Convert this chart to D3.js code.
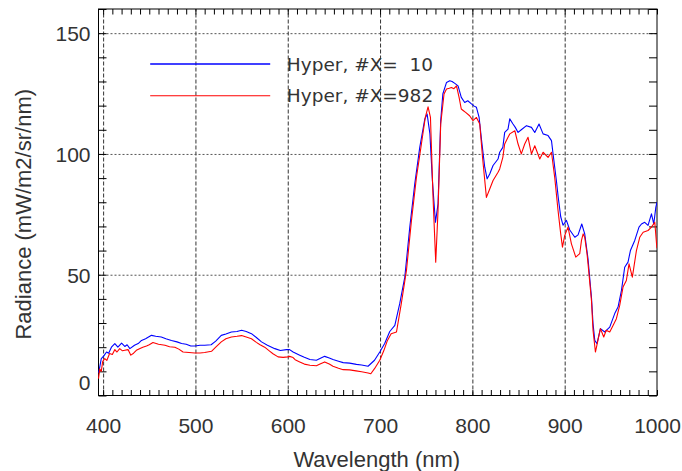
<!DOCTYPE html>
<html>
<head>
<meta charset="utf-8">
<script src="https://cdn.jsdelivr.net/npm/d3@7"></script>
<style>
  html, body { margin: 0; padding: 0; background: #fff; }
  svg { display: block; }
</style>
</head>
<body>
<script>
// ---- data ----
const blueWl = [395,396,398,401,403.7,406,409,412.7,416,420,423.5,426,429,434,438,441.6,446,452.4,457,463,468,474,480,485,490,495,499.3,505,510,517,522,528,533,539,545,550,555,560.7,566,571.6,578,586,592,598.6,602,605.8,613,618,624,631,636,640,645,649,655,660,667,674.4,680,687,694,699.7,705,710.5,716,721.3,726.8,732.2,737.6,743,748.5,751,754,756.7,760,762.8,765.7,768,772,775.5,778,781,784.5,788,791.7,795,799,802,804.4,807.3,810,813.4,816,818.8,822.4,827.8,829.6,833,835,838.6,840.5,844,846.5,849.5,853,858.6,864,867.6,872.2,876.6,882,885.7,887.4,891,893,895.7,898.2,901.9,905.5,911,914.5,918.5,921.7,925.3,929,930.7,932.6,935,938.7,943.4,948.8,954.2,957.8,961.5,965,968.6,971.2,975.9,980.5,983.2,986.7,990.3,994,996.5,998.7,1000];
const blueVal = [9.5,11,15.3,16.5,18,17.5,20,21.5,20,21.7,20.3,21,19.4,20.8,21.5,22.8,23.5,24.9,24.5,24.2,23.5,22.8,22.2,21.5,21.2,20.5,20.5,20.8,20.8,21,22.5,24.9,25.5,26.3,26.5,27,26.5,25.6,24,22.2,20.8,19.4,18.6,19,19,18,16.7,15.8,14.9,14.6,15.5,16.2,15.5,14.9,14.2,13.6,13.4,12.9,12.6,12.1,14.6,18,21.5,26.5,29,38,49,69.7,87.6,102.7,114.5,116.5,108.3,89,71.7,79.3,113.8,124.8,129.6,130.3,130,129.2,128.2,123.4,121.3,122,120.7,119.8,119.3,115.1,105.5,94.5,89.7,91.7,95.2,97.9,100.7,102.7,108.9,110.3,114.5,112.4,111,108.9,110,111.7,111,108.9,112.4,108.3,107.6,105.5,100,89,82,74,70.5,72.5,68.5,65.5,66.5,71,66.9,56.5,40.7,29.8,22.8,21.5,27.7,26.3,28.3,33.9,36.6,43.5,53.1,55.2,60,64.2,69.7,71,71.7,70.4,75.2,71,77.9,80];

const redWl = [395,396.4,398,399.5,401.8,404,407,410,412.7,415,418,421,423.5,427,430,433,436,440,443,447,450,454,460,467,472,477.7,482,486.6,493,499.3,505,510,517.4,522,528,533,539,545,550,555,560.7,566,570,575,580,584,589.5,595,600,602,605.8,608,613,618,624,631,635,640,645,649,655,660,667,674,680,687,690,694,699.7,704,708,712,717.8,723,728.6,734,739.4,744.8,749,752,754.6,757.4,760.3,762.8,765.7,769.3,772,775,777.3,780,782.8,785.6,788,790,792.7,797,800.7,804.4,808,811,815.2,818.8,822.4,827.8,829.6,833,835,838.6,840.5,846,849.5,853,856.7,860.3,864,867.6,873,876.6,882,885.7,889.2,892.8,895.7,897.6,900,903.6,907.3,912,916.3,918.2,920,921.7,924.2,925.3,929,930.7,933.3,936,938.7,942.3,945,948.8,952.4,956,959.6,963.2,966.8,969.7,973.3,977.7,981.3,985,990.3,994,997.6,999.5,1000];
const redVal = [7,11,10,14,15.3,14.5,17.4,17,19,18,19.4,18.5,18.7,19,16.7,17.5,18.7,19.5,20,20.5,21,21.9,21.2,20.8,20.2,20,19.2,18,17.8,17.6,17.6,17.8,18.3,20,22.2,23.5,24.2,24.5,24.8,24.2,23.5,22,21,20,18.5,17.3,16,15.8,16,16.2,15.7,14.8,13.9,13,12.5,12.3,13,13.9,13,12.1,11.3,10.7,10.6,10.2,9.8,9.3,9,11.1,14.6,18.5,22.8,25.6,26.3,38,51.8,72.4,90.3,104.1,115.1,119.5,115.1,82,55.2,76.6,112.4,124.8,126.9,127.2,127.5,127,128.2,123.4,118.6,118,117.2,115.8,113.8,115.1,112.4,98.6,82,85.5,89,92.4,93.8,98.6,104.1,106.9,108.3,109.6,104.1,100,104.1,106.9,100,103.4,97.9,100.7,98.6,100.7,90.3,76.6,66.9,61.4,66.2,69.7,62.8,57.3,58.7,64.2,66.9,65.5,58.7,54.5,39.4,27,18,22.8,27.7,24.2,27,26.3,29,31.8,37.3,44.9,47.6,54.5,49,60,65.5,67.6,68.3,69.7,71.7,62.8,61];

const xTickValues = [400,500,600,700,800,900,1000];
const yTickValues = [0,50,100,150];
const xDomain = [395,1000];
const yDomain = [0,160];
const seriesNames = ["Hyper, #X=  10", "Hyper, #X=982"];
const seriesColors = ["#0000ff", "#ff0000"];
const xTitle = "Wavelength (nm)";
const yTitle = "Radiance (mW/m2/sr/nm)";

// ---- layout ----
const W = 682, H = 471;
const L = 98.5, R = 657, T = 9, B = 395.5;
const pw = R - L, ph = B - T;

const svg = d3.select("body").append("svg").attr("width", W).attr("height", H);

const x = d3.scaleLinear().domain(xDomain).range([L, R]);
const y = d3.scaleLinear().domain(yDomain).range([B, T]);

const tickFont = "Liberation Sans, Arial, Helvetica, sans-serif";

// vertical grid (major ticks) with labels
const gx = svg.append("g").attr("transform", `translate(0,${B})`)
  .call(d3.axisBottom(x).tickValues(xTickValues).tickSize(-ph).tickPadding(37).tickFormat(d3.format("d")));
gx.select(".domain").remove();
gx.selectAll(".tick line").attr("stroke", "#333").attr("stroke-dasharray", "4,2");
gx.selectAll(".tick text").attr("font-family", tickFont).attr("font-size", 21).attr("fill", "#333").attr("dy", "0");

// horizontal grid with labels
const gy = svg.append("g").attr("transform", `translate(${L},0)`)
  .call(d3.axisLeft(y).tickValues(yTickValues).tickSize(-pw).tickPadding(8).tickFormat(d3.format("d")));
gy.select(".domain").remove();
gy.selectAll(".tick line").attr("stroke", "#555").attr("stroke-dasharray", "2,2");
gy.selectAll(".tick text").attr("font-family", tickFont).attr("font-size", 21).attr("fill", "#333").attr("dy", "0.36em");
gy.selectAll(".tick").filter(d => d === 0).select("text").attr("dy", "-0.3em");
gy.selectAll(".tick").filter(d => d === 0).select("line").remove();
gx.selectAll(".tick").filter(d => d === 1000).select("line").remove();

// minor ticks
const xMinor = d3.range(400, 1001, 10);
const yMinor = d3.range(0, 161, 10);
function minor(g) { g.select(".domain").remove(); g.selectAll("text").remove(); g.selectAll("line").attr("stroke", "#000"); }
svg.append("g").attr("transform", `translate(0,${B})`).call(d3.axisBottom(x).tickValues(xMinor).tickSize(-5.5)).call(minor);
svg.append("g").attr("transform", `translate(0,${T})`).call(d3.axisTop(x).tickValues(xMinor).tickSize(-5.5)).call(minor);
svg.append("g").attr("transform", `translate(${L},0)`).call(d3.axisLeft(y).tickValues(yMinor).tickSize(-8)).call(minor);
svg.append("g").attr("transform", `translate(${R},0)`).call(d3.axisRight(y).tickValues(yMinor).tickSize(-8)).call(minor);

// frame
svg.append("rect").attr("x", L).attr("y", T).attr("width", pw).attr("height", ph)
  .attr("fill", "none").attr("stroke", "#000").attr("stroke-width", 1);

// data lines
const clip = svg.append("clipPath").attr("id", "clip").append("rect")
  .attr("x", L - 3).attr("y", T).attr("width", pw + 3).attr("height", ph);

const line = d3.line().x(d => x(d[0])).y(d => y(d[1]));
const seriesData = [
  d3.zip(blueWl, blueVal),
  d3.zip(redWl, redVal)
];
seriesData.forEach((s, i) => {
  svg.append("path").datum(s).attr("d", line)
    .attr("fill", "none").attr("stroke", seriesColors[i]).attr("stroke-width", 1.1)
    .attr("stroke-linejoin", "round")
    .attr("clip-path", "url(#clip)");
});

// legend
const legX0 = x(451), legX1 = x(581), legText = x(599);
const legY = [y(137.2), y(124.1)];
seriesNames.forEach((name, i) => {
  svg.append("line").attr("x1", legX0).attr("x2", legX1).attr("y1", legY[i]).attr("y2", legY[i])
    .attr("stroke", seriesColors[i]).attr("stroke-width", i === 0 ? 1.5 : 1.1);
  svg.append("text").attr("x", legText).attr("y", legY[i]).attr("dy", "0.36em")
    .style("white-space", "pre")
    .attr("font-family", "DejaVu Sans, sans-serif").attr("font-size", 18.5).attr("fill", "#333")
    .text(name);
});

// axis titles
svg.append("text").attr("x", (L + R) / 2 - 1).attr("y", 467).attr("text-anchor", "middle")
  .attr("font-family", tickFont).attr("font-size", 22).attr("fill", "#333").text(xTitle);
svg.append("text").attr("transform", `translate(31,${(T + B) / 2 + 12}) rotate(-90)`).attr("text-anchor", "middle")
  .attr("font-family", tickFont).attr("font-size", 22).attr("fill", "#333").text(yTitle);
</script>
</body>
</html>
